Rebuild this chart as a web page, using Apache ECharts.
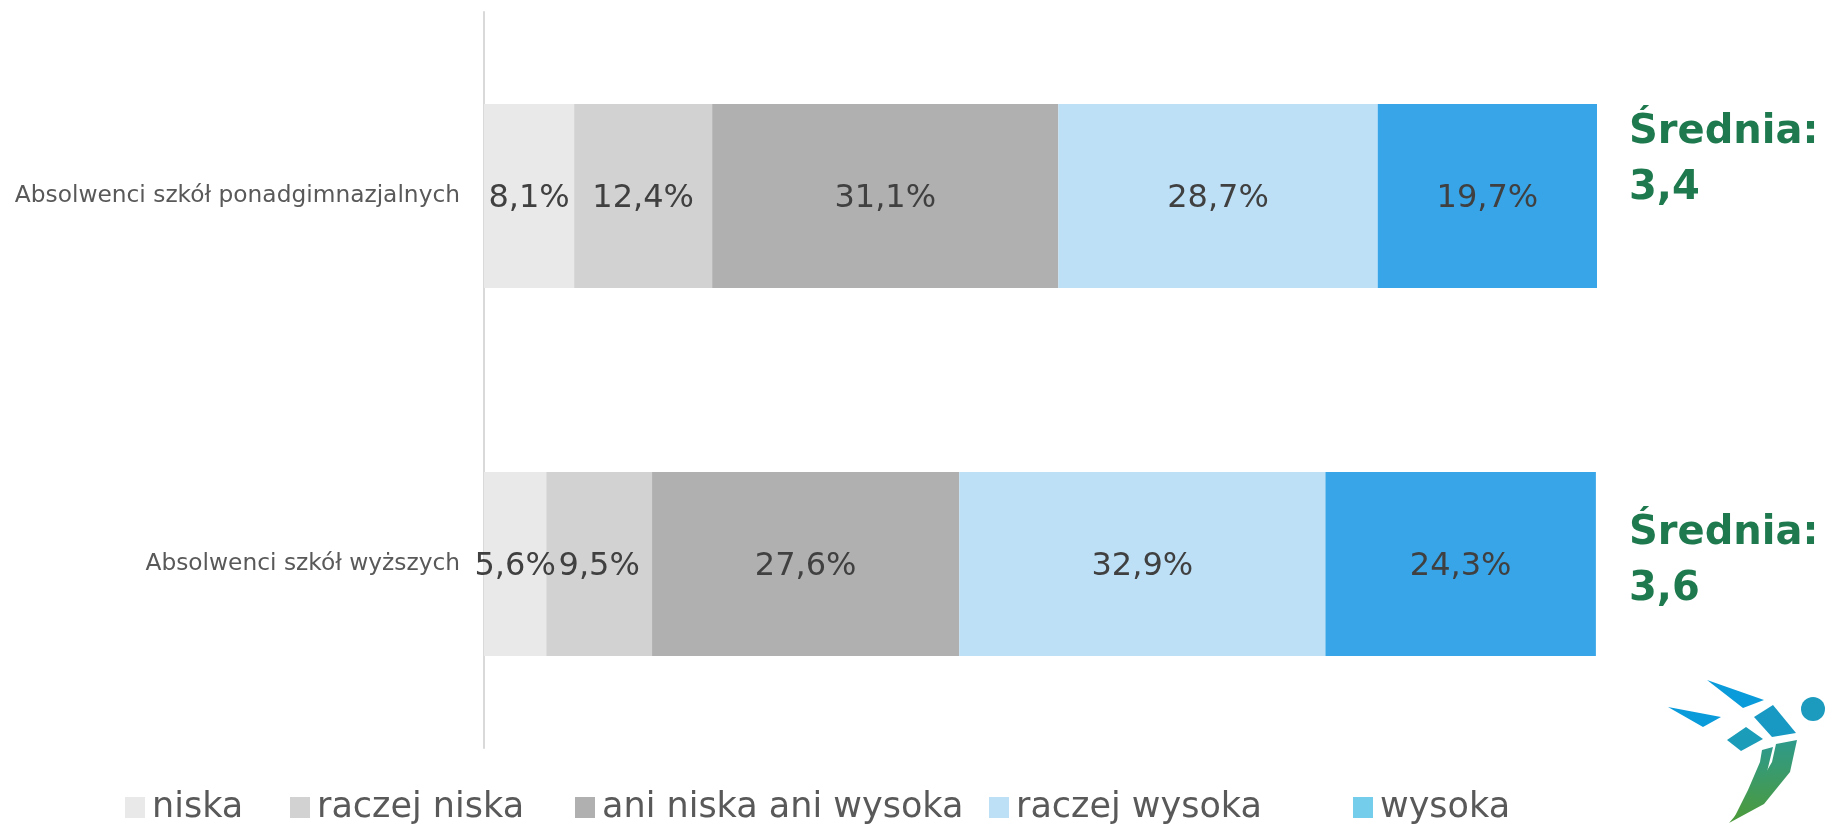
<!DOCTYPE html>
<html>
<head>
<meta charset="utf-8">
<script src="https://cdn.jsdelivr.net/npm/echarts@6/dist/echarts.min.js"></script>
<style>
  html, body { margin: 0; padding: 0; background: #fff; }
  #chart { width: 1827px; height: 826px; }
</style>
</head>
<body>
<div id="chart"></div>
<script>
// dane
const categories = ['Absolwenci szkół ponadgimnazjalnych', 'Absolwenci szkół wyższych'];
const seriesNames = ['niska', 'raczej niska', 'ani niska ani wysoka', 'raczej wysoka', 'wysoka'];
const niska = [8.1, 5.6];
const raczejNiska = [12.4, 9.5];
const aniNiskaAniWysoka = [31.1, 27.6];
const raczejWysoka = [28.7, 32.9];
const wysoka = [19.7, 24.3];
const srednia = ['3,4', '3,6'];

const barColors = ['#E9E9E9', '#D2D2D2', '#B0B0B0', '#BDE0F7', '#38A5E8'];
const legendColors = ['#E9E9E9', '#D2D2D2', '#B0B0B0', '#BDE0F7', '#74CDEB'];
const values = [niska, raczejNiska, aniNiskaAniWysoka, raczejWysoka, wysoka];

const FONT = 'DejaVu Sans';

let chart = echarts.init(document.getElementById('chart'));

let series = seriesNames.map(function (name, i) {
    return {
        name: name,
        type: 'bar',
        stack: 'total',
        barCategoryGap: '50%',
        itemStyle: { color: barColors[i] },
        label: {
            show: true,
            position: 'inside',
            offset: [0, 3],
            color: '#404040',
            fontFamily: FONT,
            fontSize: 32,
            formatter: function (p) {
                return p.value.toFixed(1).replace('.', ',') + '%';
            }
        },
        emphasis: { disabled: true },
        data: values[i]
    };
});

// etykiety "Średnia" po prawej stronie słupków
const sredniaOffsets = [[0, -35], [0, -2]];
series.push({
    name: 'srednia',
    type: 'scatter',
    symbolSize: 0,
    silent: true,
    itemStyle: { opacity: 1 },
    data: srednia.map(function (s, i) {
        return {
            value: [100, categories[i]],
            label: { offset: sredniaOffsets[i] }
        };
    }),
    label: {
        show: true,
        position: 'right',
        distance: 32,
        opacity: 1,
        color: '#1E7A4E',
        fontFamily: FONT,
        fontWeight: 'bold',
        fontSize: 40,
        lineHeight: 56,
        formatter: function (p) {
            return 'Średnia:\n' + srednia[p.dataIndex];
        }
    }
});

// legenda: każda pozycja osobno, jak w oryginale
const legendLefts = [120, 285, 570, 984, 1348];
let legends = seriesNames.map(function (n, i) {
    return {
        left: legendLefts[i],
        bottom: -4,
        icon: 'rect',
        itemWidth: 20,
        itemHeight: 21,
        textStyle: { color: '#595959', fontFamily: FONT, fontSize: 35, padding: [0, 0, 0, 2] },
        data: [{ name: n, itemStyle: { color: legendColors[i] } }],
        selectedMode: false
    };
});

chart.setOption({
    animation: false,
    grid: { left: 484, right: 230, top: 12, bottom: 78 },
    legend: legends,
    xAxis: {
        type: 'value',
        min: 0,
        max: 100,
        show: false
    },
    yAxis: {
        type: 'category',
        inverse: true,
        data: categories,
        axisLine: { show: true, lineStyle: { color: '#D9D9D9', width: 2 } },
        axisTick: { show: false },
        axisLabel: { color: '#595959', fontFamily: FONT, fontSize: 23.3, margin: 24, padding: [10, 0, 0, 0] }
    },
    graphic: [
        { type: 'polygon', shape: { points: [[1707, 680], [1764, 700], [1743, 708]] }, style: { fill: '#0A9BDB' } },
        { type: 'polygon', shape: { points: [[1668, 707], [1721, 717], [1703, 727]] }, style: { fill: '#0A9BDB' } },
        { type: 'circle', shape: { cx: 1813, cy: 709, r: 12 }, style: { fill: '#1C9BBF' } },
        { type: 'polygon', shape: { points: [[1754, 717], [1773, 705], [1796, 733], [1772, 737]] }, style: { fill: '#1799C4' } },
        { type: 'polygon', shape: { points: [[1727, 740], [1746, 727], [1763, 739], [1741, 751]] }, style: { fill: '#1B9CB8' } },
        {
            type: 'polygon',
            shape: { points: [[1797, 740], [1790, 772], [1764, 804], [1729, 823], [1752, 796], [1772, 762], [1776, 744]] },
            style: {
                fill: new echarts.graphic.LinearGradient(0, 0, 0, 1, [
                    { offset: 0, color: '#2E9A8A' }, { offset: 1, color: '#4C9A3A' }
                ])
            }
        },
        {
            type: 'polygon',
            shape: { points: [[1773, 747], [1766, 776], [1748, 806], [1734, 818], [1748, 790], [1760, 762], [1762, 750]] },
            style: {
                fill: new echarts.graphic.LinearGradient(0, 0, 0, 1, [
                    { offset: 0, color: '#2E9A8A' }, { offset: 1, color: '#4C9A3A' }
                ])
            }
        }
    ],
    series: series
});
</script>
</body>
</html>
